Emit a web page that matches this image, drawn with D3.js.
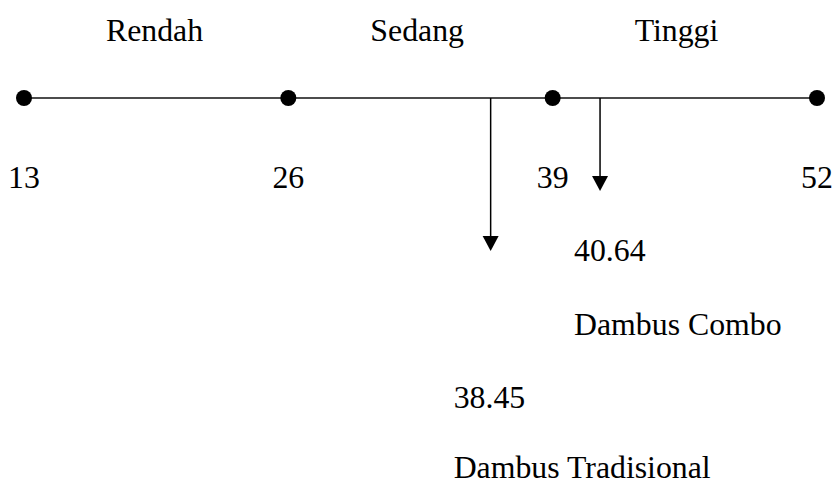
<!DOCTYPE html>
<html>
<head>
<meta charset="utf-8">
<script src="https://cdnjs.cloudflare.com/ajax/libs/d3/7.8.5/d3.min.js"></script>
<style>
  body { margin: 0; background: #fff; }
  text { font-family: "Liberation Serif", "Times New Roman", serif; font-size: 31.8px; fill: #000; }
</style>
</head>
<body>
<div id="chart"></div>
<script>
// scale points and category names
const ticks = [13, 26, 39, 52];
const categories = ['Rendah', 'Sedang', 'Tinggi'];

// where the arrows hit the line and what they are labelled
const arrowAt = [35.95, 41.33];
const scoreLabels = ['38.45', '40.64'];
const groupNames = ['Dambus Tradisional', 'Dambus Combo'];

const width = 836, height = 485;
const lineY = 98;

const svg = d3.select('#chart').append('svg')
    .attr('width', width)
    .attr('height', height);

const x = d3.scaleLinear().domain([13, 52]).range([24, 817]);

// main line
svg.append('line')
    .attr('x1', x(ticks[0]))
    .attr('x2', x(ticks[ticks.length - 1]))
    .attr('y1', lineY)
    .attr('y2', lineY)
    .attr('stroke', '#111')
    .attr('stroke-width', 1.6);

// category labels, one per segment
svg.selectAll('.cat')
    .data(categories)
    .enter()
    .append('text')
    .attr('class', 'cat')
    .attr('x', (d, i) => x(ticks[i]) + 82)
    .attr('y', 41)
    .text(d => d);

// arrows (first = tradisional, second = combo)
const tipY = [251, 191];
const headH = 15, headW = 8;

arrowAt.forEach(function (v, i) {
    const ax = x(v);
    svg.append('line')
        .attr('x1', ax).attr('x2', ax)
        .attr('y1', lineY)
        .attr('y2', tipY[i] - headH + 1)
        .attr('stroke', '#000')
        .attr('stroke-width', 1.5);
    svg.append('path')
        .attr('d', 'M' + (ax - headW) + ',' + (tipY[i] - headH) +
            'L' + (ax + headW) + ',' + (tipY[i] - headH) +
            'L' + ax + ',' + tipY[i] + 'Z')
        .attr('fill', '#000');
});

// dots on the scale points
svg.selectAll('.dot')
    .data(ticks)
    .enter()
    .append('circle')
    .attr('cx', d => x(d))
    .attr('cy', lineY)
    .attr('r', 8)
    .attr('fill', '#000');

// tick values under the dots
svg.selectAll('.tick')
    .data(ticks)
    .enter()
    .append('text')
    .attr('x', d => x(d))
    .attr('y', 188)
    .attr('text-anchor', 'middle')
    .text(d => d);

// score + group labels
const labelDx = [-37, -26];
const scoreY = [408, 261];
const nameY = [478, 335];
scoreLabels.forEach(function (s, i) {
    svg.append('text')
        .attr('x', x(arrowAt[i]) + labelDx[i])
        .attr('y', scoreY[i])
        .text(s);
    svg.append('text')
        .attr('x', x(arrowAt[i]) + labelDx[i])
        .attr('y', nameY[i])
        .text(groupNames[i]);
});
</script>
</body>
</html>
